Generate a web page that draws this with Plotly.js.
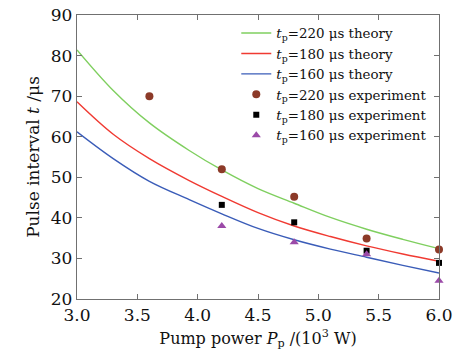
<!DOCTYPE html>
<html>
<head>
<meta charset="utf-8">
<script src="https://cdn.plot.ly/plotly-3.0.1.min.js"></script>
<style>html,body{margin:0;padding:0;background:#fff;}#chart{width:463px;height:350px;}</style>
</head>
<body>
<div id="chart"></div>
<script>
// Theory curves
const theoryX = [3.0, 3.3, 3.6, 3.93, 4.2, 4.5, 4.8, 5.1, 5.4, 5.7, 6.0];
const theory220 = [81.4, 71.4, 63.4, 56.6, 51.8, 47.2, 43.6, 40.1, 37.2, 34.7, 32.4];
const theory180 = [68.6, 60.6, 54.6, 49.2, 45.3, 41.3, 38.0, 35.4, 33.1, 31.1, 29.3];
const theory160 = [61.2, 54.6, 49.0, 44.5, 41.0, 37.4, 34.6, 32.3, 30.3, 28.3, 26.4];
// Experimental data
const exp220X = [3.6, 4.2, 4.8, 5.4, 6.0];
const exp220 = [70.0, 52.0, 45.2, 34.9, 32.2];
const expX = [4.2, 4.8, 5.4, 6.0];
const exp180 = [43.2, 38.9, 31.9, 28.9];
const exp160 = [38.0, 34.0, 31.0, 24.5];
const xTicks = [3.0, 3.5, 4.0, 4.5, 5.0, 5.5, 6.0];
const xTickText = ['3.0', '3.5', '4.0', '4.5', '5.0', '5.5', '6.0'];

const F = 'DejaVu Serif, Liberation Serif, serif';
const lbl = v => '<i>t</i><sub>p</sub>=' + v;

const traces = [
  {x: theoryX, y: theory220, mode: 'lines', line: {color: '#7fcf5f', width: 1.4, shape: 'spline', smoothing: 1}, name: lbl('220 μs theory')},
  {x: theoryX, y: theory180, mode: 'lines', line: {color: '#f03a32', width: 1.4, shape: 'spline', smoothing: 1}, name: lbl('180 μs theory')},
  {x: theoryX, y: theory160, mode: 'lines', line: {color: '#3a5cb8', width: 1.4, shape: 'spline', smoothing: 1}, name: lbl('160 μs theory')},
  {x: exp220X, y: exp220, mode: 'markers', marker: {symbol: 'circle', size: 8, color: '#8c3a28'}, name: lbl('220 μs experiment'), cliponaxis: false},
  {x: expX, y: exp180, mode: 'markers', marker: {symbol: 'square', size: 6, color: '#000'}, name: lbl('180 μs experiment'), cliponaxis: false},
  {x: expX, y: exp160, mode: 'markers', marker: {symbol: 'triangle-up', size: 8, color: '#9b4aa8'}, name: lbl('160 μs experiment'), cliponaxis: false}
];

const axisCommon = {
  showgrid: false, zeroline: false, showline: true, mirror: 'ticks',
  linecolor: '#707070', linewidth: 1.2, ticks: 'inside', ticklen: 5,
  tickcolor: '#707070', tickfont: {family: F, size: 17, color: '#111'}
};

const layout = {
  width: 463, height: 350,
  margin: {l: 77, r: 24, t: 15, b: 51},
  paper_bgcolor: '#fff', plot_bgcolor: '#fff',
  showlegend: true,
  legend: {x: 0.44, y: 0.99, xanchor: 'left', yanchor: 'top', bgcolor: 'rgba(0,0,0,0)',
           font: {family: F, size: 13.4, color: '#111'}, tracegroupgap: 0, itemwidth: 30},
  xaxis: Object.assign({}, axisCommon, {
    range: [3.0, 6.0], tickvals: xTicks, ticktext: xTickText,
    title: {text: 'Pump power <i>P</i><sub>p</sub> /(10<sup>3</sup> W)', font: {family: F, size: 16, color: '#111'}, standoff: 11}
  }),
  yaxis: Object.assign({}, axisCommon, {
    range: [20, 90], dtick: 10,
    title: {text: 'Pulse interval <i>t</i> /μs', font: {family: F, size: 17, color: '#111'}, standoff: 6}
  })
};

Plotly.newPlot('chart', traces, layout, {displayModeBar: false, staticPlot: true});
</script>
</body>
</html>
